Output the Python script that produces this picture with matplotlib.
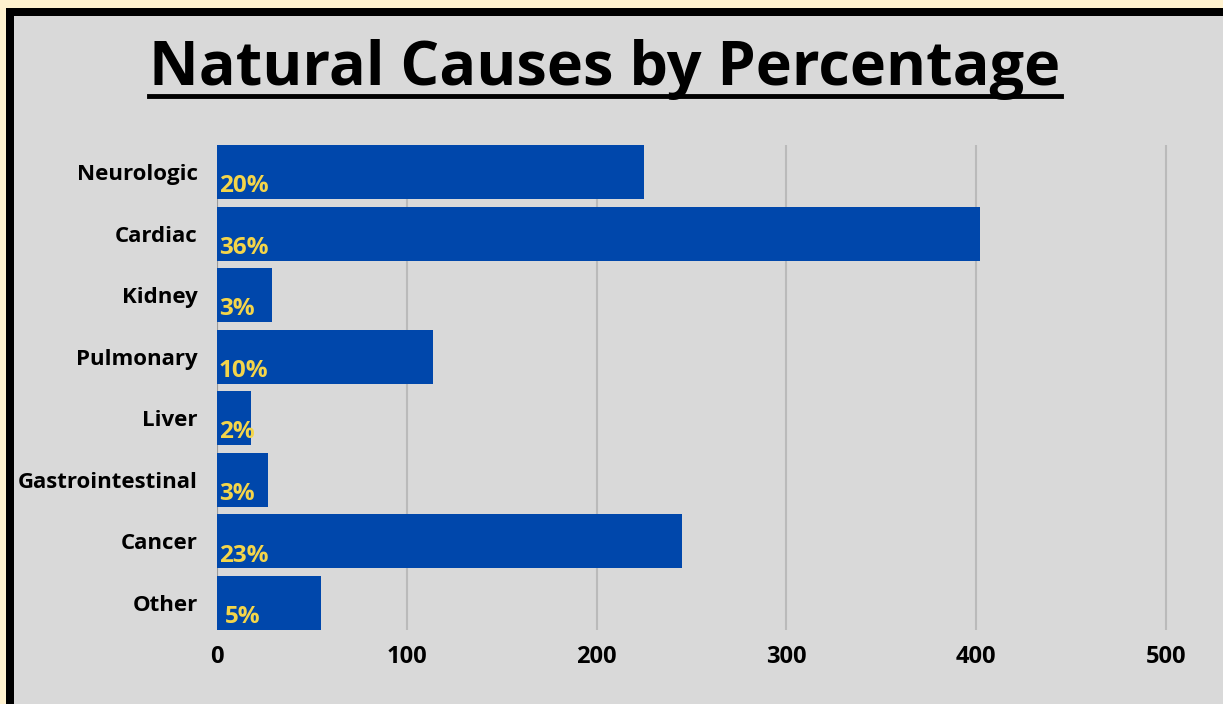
import matplotlib.pyplot as plt
from matplotlib.patches import Rectangle
from matplotlib.lines import Line2D

causes = ["Neurologic", "Cardiac", "Kidney", "Pulmonary", "Liver",
          "Gastrointestinal", "Cancer", "Other"]
counts = [225, 402, 29, 114, 18, 27, 245, 55]
pct_labels = ["20%", "36%", "3%", "10%", "2%", "3%", "23%", "5%"]
x_ticks = [0, 100, 200, 300, 400, 500]

plt.rcParams["font.family"] = ["Open Sans", "DejaVu Sans"]

W, H = 1223, 704
fig = plt.figure(figsize=(W / 100, H / 100), dpi=100, facecolor="#fff2cf")

# frame: black border on top/left, grey panel
fig.patches.append(Rectangle((6 / W, 0), 1, 1 - 8 / H, transform=fig.transFigure,
                             facecolor="black", edgecolor="none", zorder=-2))
fig.patches.append(Rectangle((14 / W, 0), 1, 1 - 16 / H, transform=fig.transFigure,
                             facecolor="#d9d9d9", edgecolor="none", zorder=-1))

# axes placed in pixel terms
x0, y_top, y_bot = 217, 145, 630
px_per_unit = (1166 - 217) / 500
xmax = 520
ax = fig.add_axes([x0 / W, 1 - y_bot / H, xmax * px_per_unit / W, (y_bot - y_top) / H])
ax.set_facecolor("none")

pos = list(range(len(causes)))
ax.barh(pos, counts, height=0.88, color="#0047ab", zorder=3)
for i, (v, lab) in enumerate(zip(counts, pct_labels)):
    ax.text(4 if lab == "5%" else 1, i + 0.23, lab, color="#f4d54a", fontsize=17.5,
            fontweight="bold", va="center", ha="left", zorder=4)

ax.set_ylim(len(causes) - 0.56, -0.44)
ax.set_xlim(0, xmax)
ax.set_yticks(pos)
ax.set_yticklabels(causes, fontsize=16, fontweight="bold")
ax.set_xticks(x_ticks)
ax.set_xticklabels([str(t) for t in x_ticks], fontsize=17, fontweight="bold")
ax.tick_params(length=0)
ax.tick_params(axis="y", pad=14)
ax.tick_params(axis="x", pad=11)
ax.xaxis.grid(True, color="#bababa", linewidth=1.5, zorder=0)
for s in ax.spines.values():
    s.set_visible(False)
ax.axvline(0, color="#9a9a9a", linewidth=1.5, zorder=2)

title = fig.text(605 / W, 1 - 85 / H, "Natural Causes by Percentage", fontsize=44,
                 fontweight="bold", ha="center", va="baseline", color="black")

# underline under the title
fig.canvas.draw()
bb = title.get_window_extent()
uy = 1 - 96 / H
fig.lines.append(Line2D([bb.x0 / W, bb.x1 / W], [uy, uy], transform=fig.transFigure,
                        color="black", linewidth=3.5))

fig.savefig("out.png", dpi=100, facecolor=fig.get_facecolor())
